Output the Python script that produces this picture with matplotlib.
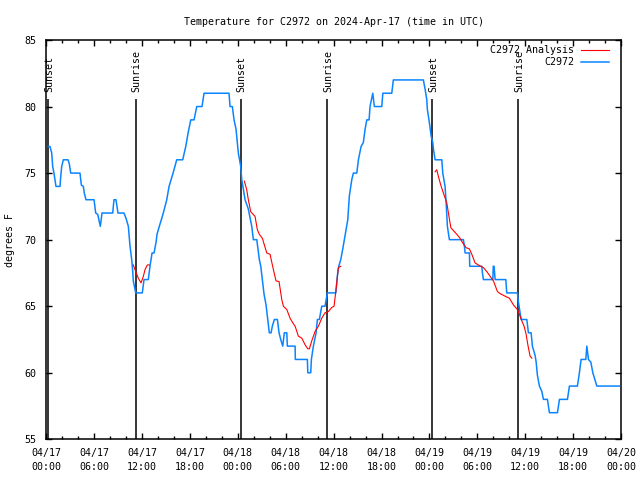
import numpy as np
import matplotlib
matplotlib.use("Agg")
import matplotlib.pyplot as plt

# hours since 04/17 00:00 UTC (rows of 10, temps aligned row by row)
obs_hours = [0.25, 0.46, 0.68, 0.80, 0.96, 1.09, 1.21, 1.72, 1.80, 1.93,
             2.13, 2.72, 2.88, 3.06, 4.22, 4.39, 4.64, 4.76, 4.97, 5.98,
             6.19, 6.44, 6.77, 6.98, 7.07, 8.32, 8.48, 8.73, 8.98, 9.73,
             9.99, 10.28, 10.49, 10.70, 10.83, 10.90, 11.20, 12.03, 12.24, 12.78,
             12.99, 13.25, 13.50, 13.75, 13.87, 14.16, 14.66, 15.09, 15.38, 15.88,
             16.34, 17.09, 17.47, 17.76, 18.10, 18.51, 18.85, 19.51, 19.76, 22.89,
             23.02, 23.31, 23.52, 23.77, 24.06, 24.36, 24.49, 24.69, 24.90, 25.31,
             25.74, 25.94, 26.37, 26.57, 26.69, 26.87, 27.07, 27.28, 27.53, 27.74,
             27.94, 28.16, 28.32, 28.57, 28.95, 29.16, 29.37, 29.62, 29.82, 30.13,
             30.20, 31.17, 31.20, 32.71, 32.76, 33.13, 33.21, 33.46, 33.80, 33.96,
             34.21, 34.30, 34.51, 34.92, 35.21, 36.27, 36.39, 36.47, 36.64, 36.89,
             37.14, 37.34, 37.56, 37.77, 37.97, 38.27, 38.47, 38.90, 39.10, 39.44,
             39.72, 39.94, 40.15, 40.44, 40.56, 40.90, 41.10, 42.03, 42.16, 43.28,
             43.48, 47.24, 47.46, 47.67, 47.74, 47.99, 48.21, 48.42, 48.50, 48.71,
             49.55, 49.67, 49.96, 50.09, 50.25, 50.50, 52.26, 52.38, 52.47, 53.01,
             53.05, 54.56, 54.64, 54.76, 55.94, 56.00, 56.10, 56.23, 57.57, 57.69,
             59.02, 59.15, 59.36, 59.49, 60.20, 60.40, 60.74, 60.90, 61.24, 61.37,
             61.53, 61.78, 62.08, 62.28, 62.78, 63.03, 64.04, 64.29, 65.29, 65.54,
             66.54, 66.79, 67.00, 67.59, 67.72, 67.92, 68.22, 68.47, 68.97, 71.80]
obs_temps = [77, 77, 76.5, 75.5, 75, 74.5, 74, 74, 74.7, 75.5,
             76, 76, 75.7, 75, 75, 74.1, 74, 73.5, 73, 73,
             72, 71.9, 71, 72, 72, 72, 73, 73, 72, 72,
             71.6, 71, 69.5, 68.5, 67.6, 66.9, 66, 66, 67, 67,
             68, 69, 69, 69.8, 70.4, 71, 72, 73, 74, 75,
             76, 76, 77, 78, 79, 79, 80, 80, 81, 81,
             80, 80, 79, 78.3, 76.5, 75.5, 74.5, 73.8, 73, 72.3,
             71, 70, 70, 69.1, 68.5, 68, 67, 65.9, 65.1, 64,
             63, 63, 63.5, 64, 64, 63, 62.5, 62, 63, 63,
             62, 62, 61, 61, 60, 60, 61, 62, 63, 64,
             64, 64.3, 65, 65, 66, 66, 66.8, 67.3, 68, 68.5,
             69.3, 70, 70.8, 71.5, 73.3, 74.5, 75, 75, 76, 77,
             77.3, 78.3, 79, 79, 80, 81, 80, 80, 81, 81,
             82, 82, 81.3, 80.5, 79.8, 78.8, 77.8, 77.3, 76.8, 76,
             76, 75, 74, 72.8, 71, 70, 70, 69.5, 69, 69,
             68, 68, 67.5, 67, 67, 68, 68, 67, 67, 66,
             66, 65.3, 64.5, 64, 64, 63, 63, 62, 61.3, 60.8,
             59.8, 59, 58.6, 58, 58, 57, 57, 58, 58, 59,
             59, 60, 61, 61, 62, 61, 60.8, 60, 59, 59]

ana1_hours = [10.90, 11.20, 11.53, 11.87, 12.16, 12.37, 12.66, 12.91]
ana1_temps = [68.1, 67.6, 67.1, 66.75, 67.25, 67.75, 68.1, 68.1]
ana2_hours = [24.81, 25.11, 25.31, 25.61, 26.15, 26.44, 26.69, 27.07, 27.62, 28.03, 28.45,
              28.78, 29.16, 29.50, 29.70, 30.13, 30.54, 30.88, 31.17, 31.58, 32.01, 32.42,
              32.76, 32.96, 33.26, 33.67, 34.09, 34.51, 34.92, 35.34, 35.76, 36.05, 36.30,
              36.59, 36.89]
ana2_temps = [74.4, 73.75, 73.0, 72.1, 71.75, 70.75, 70.4, 70.1, 69.0, 68.9, 67.75,
              66.9, 66.85, 65.5, 65.0, 64.75, 64.1, 63.75, 63.5, 62.75, 62.6, 62.1,
              61.8, 61.8, 62.4, 63.1, 63.5, 64.1, 64.5, 64.6, 64.9, 65.0, 66.25,
              67.9, 68.0]
ana3_hours = [48.71, 48.92, 49.12, 49.42, 49.75, 50.18, 50.38, 50.68, 51.43, 51.84, 52.18,
              52.59, 53.01, 53.31, 53.72, 54.26, 54.76, 55.19, 55.60, 56.02, 56.52, 56.85,
              57.48, 58.02, 58.52, 59.02, 59.27, 59.57, 59.86, 60.11, 60.33, 60.61, 60.83]
ana3_temps = [75.1, 75.25, 74.75, 74.1, 73.5, 72.75, 72.0, 70.9, 70.4, 70.1, 69.75,
              69.4, 69.3, 68.9, 68.25, 68.05, 67.9, 67.6, 67.25, 66.9, 66.1, 65.95,
              65.75, 65.6, 65.1, 64.75, 64.4, 63.9, 63.5, 62.9, 62.1, 61.25, 61.1]

sun_hours = [0.24, 11.18, 24.33, 35.2, 48.37, 59.15]
sun_labels = ["Sunset", "Sunrise", "Sunset", "Sunrise", "Sunset", "Sunrise"]

xtick_hours = list(range(0, 73, 6))
xtick_labels = ["04/17\n00:00", "04/17\n06:00", "04/17\n12:00", "04/17\n18:00",
                "04/18\n00:00", "04/18\n06:00", "04/18\n12:00", "04/18\n18:00",
                "04/19\n00:00", "04/19\n06:00", "04/19\n12:00", "04/19\n18:00",
                "04/20\n00:00"]

FS = 7.2
plt.rcParams["font.family"] = ["DejaVu Sans Mono"]
plt.rcParams["font.size"] = FS

fig = plt.figure(figsize=(6.4, 4.8), dpi=100)
ax = fig.add_axes([46.3 / 640, 1 - 439.3 / 480, (621 - 46.3) / 640, (439.3 - 40) / 480])

blue = "#0a84ff"
red = "#ff0000"
ln_obs, = ax.plot(obs_hours, obs_temps, color=blue, lw=1.1, label="C2972", zorder=3)
ana_h = ana1_hours + [np.nan] + ana2_hours + [np.nan] + ana3_hours
ana_t = ana1_temps + [np.nan] + ana2_temps + [np.nan] + ana3_temps
ln_ana, = ax.plot(ana_h, ana_t, color=red, lw=0.8, label="C2972 Analysis", zorder=4)

ax.vlines(sun_hours, 55, 80.6, color="black", lw=1.1, zorder=2)
for h, lab in zip(sun_hours, sun_labels):
    ax.text(h + 0.1, 81.1, lab, rotation=90, ha="center", va="bottom", fontsize=FS)

ax.set_xlim(0, 72)
ax.set_ylim(55, 85)
ax.set_xticks(xtick_hours)
ax.set_xticklabels(xtick_labels, linespacing=1.55)
ax.set_xticks(range(0, 73, 2), minor=True)
ax.set_yticks(range(55, 86, 5))
ax.tick_params(which="both", direction="in", top=True, right=True, width=1.0)
ax.tick_params(which="major", length=4)
ax.tick_params(which="minor", length=2)
ax.tick_params(axis="x", pad=6)
ax.tick_params(axis="y", pad=7)
for s in ax.spines.values():
    s.set_linewidth(1.1)

ax.set_ylabel("degrees F", labelpad=7)
ax.set_title("Temperature for C2972 on 2024-Apr-17 (time in UTC)", fontsize=FS, pad=11)

ax.legend(handles=[ln_ana, ln_obs], loc="upper right", bbox_to_anchor=(0.9956, 1.010),
          frameon=False, markerfirst=False, handlelength=2.8, handletextpad=0.7,
          labelspacing=0.2, borderaxespad=0.5, fontsize=FS)

fig.savefig("out.png", dpi=100)
